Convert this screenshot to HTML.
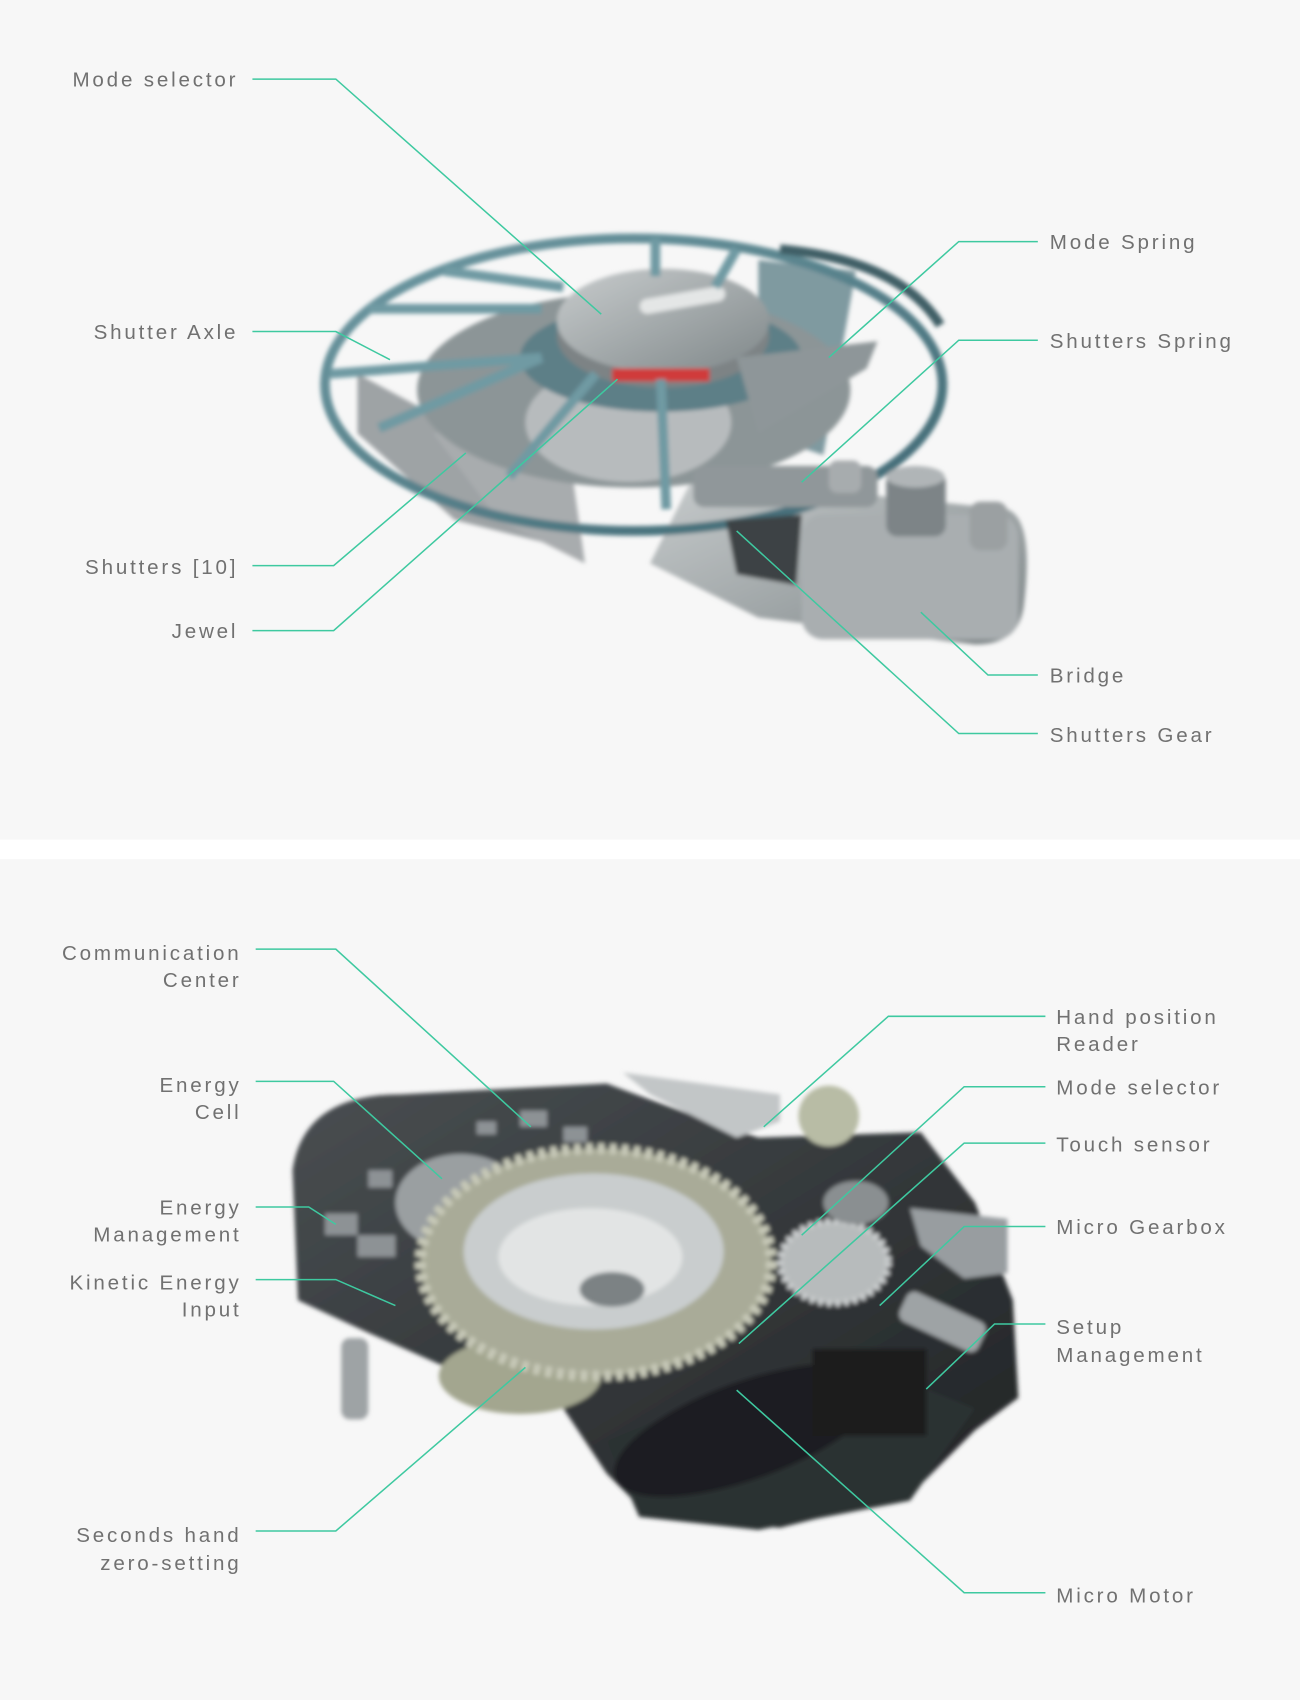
<!DOCTYPE html>
<html><head><meta charset="utf-8"><style>
html,body{margin:0;padding:0;background:#f7f7f7;}
svg{display:block}
text{font-family:"Liberation Sans",sans-serif;font-size:19px;letter-spacing:2.6px;fill:#717171;font-weight:300}
</style></head><body>
<svg width="1300" height="1700" viewBox="0 0 1200 1569" preserveAspectRatio="none" xmlns="http://www.w3.org/2000/svg">
<defs>
<filter id="b"><feGaussianBlur stdDeviation="2"/></filter>
<linearGradient id="m" x1="0" y1="0" x2="1" y2="1"><stop offset="0" stop-color="#c8cccd"/><stop offset="1" stop-color="#7f8789"/></linearGradient>
<linearGradient id="t" x1="0" y1="0" x2="1" y2="1"><stop offset="0" stop-color="#6f9aa3"/><stop offset="1" stop-color="#3f6873"/></linearGradient>
<linearGradient id="d" x1="0" y1="0" x2="1" y2="1"><stop offset="0" stop-color="#4a4f52"/><stop offset="1" stop-color="#1f2224"/></linearGradient>
</defs>
<rect x="0" y="0" width="1200" height="775" fill="#f7f7f7"/>
<rect x="0" y="775" width="1200" height="18" fill="#ffffff"/>
<rect x="0" y="793" width="1200" height="776" fill="#f7f7f7"/>

<g filter="url(#b)">
<path d="M640 440 L930 470 Q955 480 945 560 Q940 595 900 595 L700 570 L600 520 Z" fill="url(#m)"/>
<rect x="740" y="475" width="200" height="115" rx="20" fill="#a9aeb0"/>
<polygon points="330,345 470,420 500,500 420,480 330,400" fill="#9ea3a5"/>
<polygon points="400,400 520,380 540,520 460,480" fill="#a8acae"/>
<polygon points="700,240 790,250 760,420 700,400" fill="#7f9aa0"/>
<ellipse cx="585" cy="360" rx="200" ry="90" fill="#8c9597"/>
<ellipse cx="580" cy="390" rx="95" ry="55" fill="#b7bbbd"/>
<ellipse cx="610" cy="330" rx="130" ry="50" fill="#5d7f87"/>
<ellipse cx="612" cy="310" rx="98" ry="48" fill="#7d8385"/>
<ellipse cx="612" cy="296" rx="98" ry="48" fill="url(#m)"/>
<rect x="590" y="270" width="80" height="14" rx="7" fill="#e4e6e6" transform="rotate(-10 630 277)"/>
<rect x="565" y="340" width="90" height="12" fill="#d03a3a"/>
<ellipse cx="585" cy="355" rx="285" ry="135" fill="none" stroke="url(#t)" stroke-width="9"/>
<path d="M720 230 Q830 240 868 300" fill="none" stroke="#3f5f66" stroke-width="9"/>
<g stroke="#6f9aa3" stroke-width="9">
<line x1="305" y1="345" x2="500" y2="330"/><line x1="340" y1="285" x2="500" y2="285"/>
<line x1="350" y1="395" x2="500" y2="330"/><line x1="410" y1="250" x2="520" y2="265"/>
<line x1="470" y1="440" x2="550" y2="345"/><line x1="615" y1="470" x2="610" y2="350"/>
<line x1="605" y1="220" x2="605" y2="255"/><line x1="680" y1="230" x2="660" y2="265"/>
</g>
<polygon points="680,330 810,315 800,340 700,400" fill="#8e9699"/>
<rect x="640" y="430" width="170" height="38" rx="10" fill="#90979a"/>
<rect x="818" y="435" width="55" height="60" rx="10" fill="#7d8487"/>
<ellipse cx="845" cy="440" rx="27" ry="10" fill="#b0b5b7"/>
<rect x="895" y="463" width="35" height="45" rx="10" fill="#9ba0a2"/>
<rect x="765" y="425" width="30" height="30" rx="8" fill="#a7acae"/>
<polygon points="670,480 740,475 735,540 680,530" fill="#3c4244"/>
</g>

<g filter="url(#b)">
<path d="M270 1080 Q280 1010 370 1010 L560 1000 Q640 1030 700 1050 L850 1045 L900 1110 L935 1200 L940 1290 L900 1320 L840 1380 L720 1410 L600 1400 L560 1360 L520 1300 L430 1270 L340 1230 L275 1200 Z" fill="url(#d)"/>
<path d="M560 1330 Q650 1290 800 1260 L900 1300 L840 1385 L700 1412 L590 1400 Z" fill="#2b3033"/>
<ellipse cx="690" cy="1320" rx="130" ry="45" fill="#1c1f21" transform="rotate(-20 690 1320)"/>
<rect x="750" y="1245" width="105" height="80" fill="#1a1c1e"/>
<g fill="#8d9295"><rect x="480" y="1025" width="25" height="15"/><rect x="520" y="1040" width="22" height="14"/><rect x="300" y="1120" width="30" height="20"/><rect x="330" y="1140" width="35" height="20"/><rect x="440" y="1035" width="18" height="12"/><rect x="340" y="1080" width="22" height="16"/></g>
<ellipse cx="425" cy="1110" rx="60" ry="45" fill="#9a9fa1"/>
<ellipse cx="480" cy="1270" rx="75" ry="35" fill="#a3a68f"/>
<polygon points="575,990 720,1010 720,1035 680,1050 600,1010" fill="#c2c6c7"/>
<circle cx="765" cy="1030" r="28" fill="#b8bca5"/>
<ellipse cx="550" cy="1165" rx="162" ry="105" fill="#a9ab98" stroke="#c7c9b8" stroke-width="10" stroke-dasharray="6 5"/>
<ellipse cx="548" cy="1155" rx="120" ry="72" fill="#c9cdce"/>
<ellipse cx="545" cy="1160" rx="85" ry="45" fill="#e2e4e4"/>
<ellipse cx="565" cy="1190" rx="30" ry="16" fill="#7c8284"/>
<ellipse cx="770" cy="1165" rx="50" ry="38" fill="#b7bbbc" stroke="#d0d3d4" stroke-width="6" stroke-dasharray="4 4"/>
<ellipse cx="790" cy="1110" rx="30" ry="20" fill="#8a8f91"/>
<polygon points="840,1115 930,1125 930,1175 890,1180 850,1150" fill="#989da0"/>
<rect x="315" y="1235" width="25" height="75" rx="8" fill="#9ea3a5"/>
<rect x="830" y="1205" width="80" height="30" rx="8" fill="#9ea3a5" transform="rotate(25 870 1220)"/>
</g>

<g fill="none" stroke="#3ec9a0" stroke-width="1.4">
<polyline points="233,73 310,73 555,290"/>
<polyline points="233,306 310,306 360,332"/>
<polyline points="233,522 308,522 430,418"/>
<polyline points="233,582 308,582 570,350"/>
<polyline points="958,223 885,223 765,330"/>
<polyline points="958,314 885,314 740,445"/>
<polyline points="958,623 912,623 850,565"/>
<polyline points="958,677 885,677 680,490"/>
<polyline points="236,876 310,876 490,1040"/>
<polyline points="236,998 308,998 408,1088"/>
<polyline points="236,1114 285,1114 310,1130"/>
<polyline points="236,1181 310,1181 365,1205"/>
<polyline points="236,1413 310,1413 485,1262"/>
<polyline points="965,938 820,938 705,1040"/>
<polyline points="965,1003 890,1003 740,1140"/>
<polyline points="965,1055 890,1055 682,1240"/>
<polyline points="965,1132 890,1132 812,1205"/>
<polyline points="965,1222 918,1222 855,1282"/>
<polyline points="965,1470 890,1470 680,1283"/>
</g>

<g text-anchor="end">
<text x="220" y="80">Mode selector</text>
<text x="220" y="313">Shutter Axle</text>
<text x="220" y="530">Shutters [10]</text>
<text x="220" y="589">Jewel</text>
<text x="223" y="886">Communication</text>
<text x="223" y="911">Center</text>
<text x="223" y="1008">Energy</text>
<text x="223" y="1033">Cell</text>
<text x="223" y="1121">Energy</text>
<text x="223" y="1146">Management</text>
<text x="223" y="1190">Kinetic Energy</text>
<text x="223" y="1215">Input</text>
<text x="223" y="1423">Seconds hand</text>
<text x="223" y="1449">zero-setting</text>
</g>
<text x="969" y="230">Mode Spring</text>
<text x="969" y="321">Shutters Spring</text>
<text x="969" y="630">Bridge</text>
<text x="969" y="685">Shutters Gear</text>
<text x="975" y="945">Hand position</text>
<text x="975" y="970">Reader</text>
<text x="975" y="1010">Mode selector</text>
<text x="975" y="1063">Touch sensor</text>
<text x="975" y="1139">Micro Gearbox</text>
<text x="975" y="1231">Setup</text>
<text x="975" y="1257">Management</text>
<text x="975" y="1479">Micro Motor</text>
</svg>
</body></html>
